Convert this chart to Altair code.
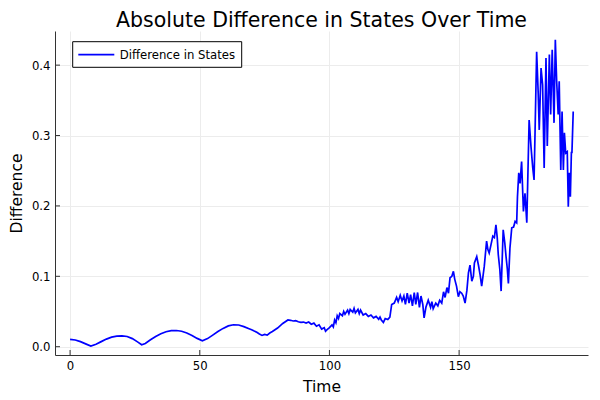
import altair as alt
import pandas as pd

# ---- data ----
time = [0, 2, 4, 6, 8, 10, 12, 14, 16, 18, 20, 22, 24, 26, 27.6, 29, 31, 33, 35, 37, 39, 41, 43, 45, 47, 49, 51,
        53, 55, 57, 59, 61, 63, 65, 67, 69, 70, 71, 72, 73, 74, 75, 76, 77, 78, 80, 82, 84, 85, 86, 87, 88, 89,
        90, 91, 92, 93, 94, 95, 96, 97, 98, 98.5, 99, 100, 101, 101.5, 102, 102.5, 103, 103.5, 104, 105, 105.5,
        106, 107, 107.5, 108, 109, 109.5, 110, 111, 111.5, 112, 113, 114, 115, 116, 117, 118, 119, 119.5, 120,
        120.8, 121.5, 122.5, 123.3, 124, 125, 125.9, 126.5, 127.3, 128, 128.7, 129.3, 130, 130.7, 131.3, 132,
        132.7, 133.3, 134, 134.7, 135.3, 136, 136.5, 137.2, 138.1, 139, 139.5, 140, 141, 141.8, 142.5, 143.3,
        144, 144.6, 145.3, 145.9, 146.5, 147.2, 147.8, 148.3, 149, 149.7, 150.3, 151, 151.6, 152.3, 153, 153.6,
        154.2, 154.9, 155.5, 155.9, 156.8, 157.5, 158.1, 158.7, 159.2, 159.7, 160.6, 161.1, 161.6, 162.3, 163,
        163.6, 164.2, 164.7, 165.1, 165.7, 166.2, 167, 167.6, 168.1, 168.6, 169, 169.6, 170.3, 171, 171.6, 172.2,
        172.5, 173, 173.5, 174.1, 174.8, 175.4, 176.1, 177, 177.7, 178.4, 178.9, 179.3, 179.9, 180.5, 180.9,
        181.6, 182.2, 182.8, 183.5, 184, 184.8, 185.3, 185.9, 186.6, 187.1, 187.6, 188.2, 188.6, 189.2, 189.7,
        190.2, 190.6, 191.1, 191.7, 192.1, 192.5, 192.9, 193.3, 193.5, 194]
difference = [0.0105, 0.0095, 0.0072, 0.0040, 0.0008, 0.0035, 0.0072, 0.0108, 0.0135, 0.0150, 0.0155, 0.0145,
              0.0115, 0.0068, 0.0028, 0.0045, 0.0098, 0.0145, 0.0185, 0.0212, 0.0228, 0.0230, 0.0220, 0.0195,
              0.0160, 0.0118, 0.0085, 0.0115, 0.0165, 0.0215, 0.0260, 0.0295, 0.0312, 0.0308, 0.0285, 0.0255,
              0.0240, 0.0222, 0.0205, 0.0180, 0.0160, 0.0175, 0.0165, 0.0195, 0.0215, 0.0265, 0.0330, 0.0380,
              0.0375, 0.0365, 0.0370, 0.0355, 0.0345, 0.0350, 0.0335, 0.0350, 0.0320, 0.0335, 0.0290, 0.0310,
              0.0250, 0.0270, 0.0220, 0.0240, 0.0270, 0.0310, 0.0280, 0.0380, 0.0340, 0.0440, 0.0400, 0.0470,
              0.0440, 0.0500, 0.0460, 0.0520, 0.0470, 0.0530, 0.0490, 0.0545, 0.0480, 0.0530, 0.0470, 0.0520,
              0.0450, 0.0470, 0.0430, 0.0450, 0.0410, 0.0430, 0.0390, 0.0420, 0.0380, 0.0345, 0.0400, 0.0385,
              0.0420, 0.0600, 0.0620, 0.0700, 0.0640, 0.0730, 0.0650, 0.0720, 0.0600, 0.0760, 0.0620, 0.0740,
              0.0580, 0.0770, 0.0600, 0.0770, 0.0560, 0.0720, 0.0600, 0.0410, 0.0560, 0.0660, 0.0560, 0.0640,
              0.0540, 0.0620, 0.0580, 0.0660, 0.0620, 0.0780, 0.0700, 0.0840, 0.0760, 0.0980, 0.1000, 0.1070,
              0.0960, 0.0860, 0.0710, 0.0780, 0.0760, 0.0720, 0.0620, 0.0800, 0.1050, 0.1160, 0.0930, 0.1000,
              0.1190, 0.1280, 0.1150, 0.1020, 0.0860, 0.1000, 0.1140, 0.1500, 0.1380, 0.1330, 0.1450, 0.1570,
              0.1550, 0.1730, 0.1550, 0.1310, 0.1100, 0.0790, 0.1660, 0.1480, 0.1280, 0.1100, 0.0900, 0.1400,
              0.1690, 0.1700, 0.1780, 0.1760, 0.2130, 0.2470, 0.2320, 0.2630, 0.1920, 0.2180, 0.1760, 0.3220,
              0.2850, 0.2540, 0.2370, 0.3080, 0.4190, 0.3600, 0.3080, 0.3960, 0.3720, 0.2540, 0.4100, 0.2850,
              0.4150, 0.3300, 0.4220, 0.3180, 0.4360, 0.3790, 0.3300, 0.3770, 0.2510, 0.3340, 0.2510, 0.3040,
              0.2750, 0.2770, 0.1990, 0.2470, 0.2130, 0.2770, 0.2750, 0.3340]
series_name = ["Difference in States"]
x_ticks = [0, 50, 100, 150]
y_ticks = [0.0, 0.1, 0.2, 0.3, 0.4]

FONT = "DejaVu Sans"
W, H = 533, 324

df = pd.DataFrame({"Time": time, "Difference": difference})
xscale = alt.Scale(domain=[-5.82, 199.7], nice=False, zero=False)
yscale = alt.Scale(domain=[-0.0118, 0.4485], nice=False, zero=False)

line = alt.Chart(df).mark_line(color="#0000ff", strokeWidth=1.7, clip=True).encode(
    x=alt.X("Time:Q", scale=xscale,
            axis=alt.Axis(values=x_ticks, title="Time", format="d", labelPadding=5,
                          titlePadding=8)),
    y=alt.Y("Difference:Q", scale=yscale,
            axis=alt.Axis(values=y_ticks, title="Difference", format=".1f", labelPadding=5,
                          titlePadding=7)),
)

xt = pd.DataFrame({"v": x_ticks})
yt = pd.DataFrame({"v": y_ticks})
xtick_marks = alt.Chart(xt).mark_rule(color="#333333", strokeWidth=1).encode(
    x=alt.X("v:Q", scale=xscale), y=alt.value(H), y2=alt.value(H - 5))
ytick_marks = alt.Chart(yt).mark_rule(color="#333333", strokeWidth=1).encode(
    y=alt.Y("v:Q", scale=yscale), x=alt.value(0), x2=alt.value(5))

leg = pd.DataFrame({"label": series_name})
leg_box = alt.Chart(leg).mark_rect(fill="white", stroke="#000000", strokeWidth=1).encode(
    x=alt.value(17.7), x2=alt.value(186.7), y=alt.value(10.7), y2=alt.value(36.3))
leg_line = alt.Chart(leg).mark_rule(color="#0000ff", strokeWidth=1.7).encode(
    x=alt.value(23.3), x2=alt.value(59.3), y=alt.value(23.6))
leg_text = alt.Chart(leg).mark_text(align="left", baseline="middle", font=FONT, fontSize=11.7,
                                    color="#000000").encode(
    x=alt.value(64.7), y=alt.value(24), text="label:N")

chart = alt.layer(line, xtick_marks, ytick_marks, leg_box, leg_line, leg_text).properties(
    width=W, height=H,
    title=alt.TitleParams("Absolute Difference in States Over Time", font=FONT, fontSize=20.5,
                          fontWeight="normal", color="#000000", anchor="middle", frame="group",
                          offset=0),
    autosize=alt.AutoSizeParams(type="none"),
    padding={"left": 47, "top": 23, "right": 4, "bottom": 40},
).configure_view(strokeWidth=0).configure_axis(
    labelFont=FONT, labelFontSize=11.7, labelColor="#000000",
    titleFont=FONT, titleFontSize=15.5, titleFontWeight="normal", titleColor="#000000",
    domainColor="#333333", domainWidth=1, ticks=False,
    gridColor="#ececec", gridWidth=1,
)

chart.save("out.html", embed_options={"renderer": "svg", "actions": False})
